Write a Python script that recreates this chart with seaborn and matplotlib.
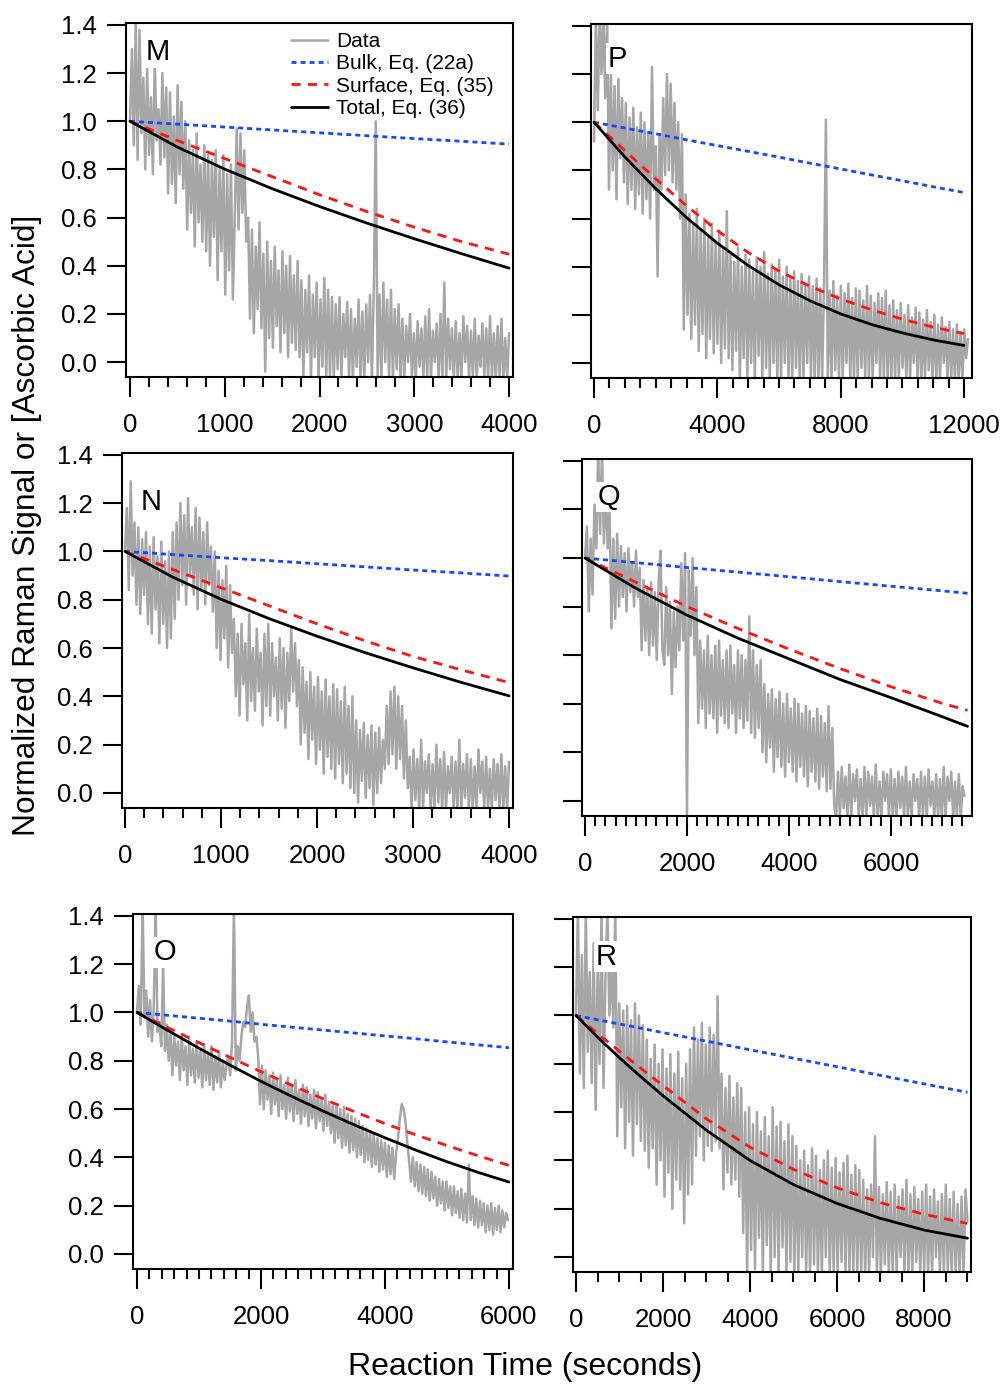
import numpy as np
import matplotlib
matplotlib.use("Agg")
import matplotlib.pyplot as plt
import seaborn as sns
from matplotlib.ticker import MultipleLocator, FormatStrFormatter
from matplotlib.lines import Line2D

sns.set_style("ticks")
plt.rcParams["font.family"] = ["Liberation Sans", "DejaVu Sans"]
plt.rcParams["text.color"] = "black"
plt.rcParams["xtick.color"] = "black"
plt.rcParams["ytick.color"] = "black"
plt.rcParams["axes.labelcolor"] = "black"

GRAY = "#a6a6a6"
BLUE = "#1448ff"
RED = "#ff1414"
BLACK = "#000000"

# ---------------- data ----------------
# Panel M
m_tmax = 4000
m_data = [1.00, 1.30, 0.90, 1.42, 0.84, 1.38, 0.95,
          1.18, 0.80, 1.22, 0.86, 1.10, 0.78, 1.25, 0.92, 1.05, 0.82, 1.20, 0.85, 1.14,
          0.70, 1.12, 0.74, 1.02, 0.66, 1.15, 0.78, 1.08, 0.72, 1.00,
          0.55, 0.92, 0.62, 0.88, 0.48, 0.95, 0.58, 0.82, 0.50, 0.90, 0.46, 0.86,
          0.40, 0.84, 0.52, 0.88, 0.34, 0.80, 0.46, 0.86, 0.28, 0.78, 0.38, 0.82, 0.26,
          0.60, 0.97, 0.55, 0.95, 0.62, 0.88, 0.50,
          0.60, 0.18, 0.55, 0.12, 0.48, 0.22, 0.58, 0.14, 0.45, -0.04,
          0.50, 0.10, 0.42, 0.06, 0.48, 0.15, 0.38, 0.04, 0.46, 0.12, 0.40, 0.02, 0.44, 0.08,
          0.36, 0.05, 0.42, 0.02,
          0.34, -0.07, 0.30, 0.04, 0.36, -0.07, 0.28, 0.02, 0.33, -0.07, 0.26, -0.02, 0.35,
          -0.07, 0.30, -0.07, 0.27,
          -0.07, 0.24, -0.03, 0.27, -0.07, 0.20, 0.02, 0.25, -0.07, 0.22, -0.07, 0.18, -0.02,
          0.26, -0.07, 0.21, -0.07, 0.24, 0.00, 0.28, -0.07, 0.30,
          1.00,
          -0.07, 0.28, -0.07, 0.33, 0.00, 0.26, -0.07, 0.30, -0.07, 0.22, -0.03, 0.24,
          -0.07, 0.18, -0.07, 0.15, 0.00, 0.20, -0.07, 0.12, -0.07, 0.17,
          -0.02, 0.14, -0.07, 0.19, -0.07, 0.22, -0.07, 0.13, 0.00, 0.16,
          -0.07, 0.20, -0.07, 0.33, -0.07, 0.18, -0.03, 0.14, -0.07, 0.17,
          -0.07, 0.12, -0.07, 0.19, 0.00, 0.15, -0.07, 0.13, -0.07, 0.18,
          -0.07, 0.11, -0.02, 0.16, -0.07, 0.14, -0.07, 0.19, -0.07, 0.12,
          -0.07, 0.15, -0.07, 0.18, -0.07, 0.10, -0.07, 0.12]
m_t = [0, 500, 1000, 1500, 2000, 2500, 3000, 3500, 4000]
m_bulk = [1.0, 0.988, 0.976, 0.964, 0.952, 0.940, 0.928, 0.917, 0.905]
m_surf = [1.0, 0.92, 0.845, 0.77, 0.695, 0.625, 0.56, 0.50, 0.448]
m_total = [1.0, 0.893, 0.801, 0.72, 0.646, 0.577, 0.512, 0.45, 0.39]

# Panel P
p_tmax = 12130
p_data = [0.92, 1.45, 1.05, 1.45, 1.20, 1.45, 1.10, 1.45,
          0.72, 1.20, 0.80, 1.15, 0.68, 1.18, 0.85, 1.10, 0.75,
          1.08, 0.66, 1.02, 0.72, 1.06, 0.64, 0.98, 0.70, 1.04, 0.62, 1.00, 0.68, 0.95, 0.60,
          1.23, 0.72, 0.90, 0.36,
          0.95, 0.72, 1.10, 0.78, 1.20, 0.80, 1.16, 0.75, 1.08, 0.72, 1.00,
          0.60, 0.95, 0.14, 0.70,
          0.20, 0.62, 0.10, 0.58, 0.16, 0.64, 0.05, 0.55, 0.12, 0.60, 0.02, 0.52, 0.10, 0.58,
          0.04, 0.50, 0.08, 0.55, 0.00, 0.48, 0.06,
          0.63,
          0.02, 0.46, -0.03, 0.42, 0.05, 0.48, -0.07, 0.40, 0.02, 0.45,
          -0.07, 0.43, 0.00, 0.38, -0.07, 0.44, 0.03, 0.40, -0.07, 0.46,
          -0.02, 0.37, -0.07, 0.41, 0.00, 0.39, -0.07, 0.43, -0.07, 0.36,
          0.00, 0.40, -0.07, 0.35, -0.07, 0.38, -0.02, 0.34, -0.07, 0.37,
          -0.07, 0.33, 0.00, 0.36, -0.07, 0.32, -0.07, 0.35, -0.07, 0.31,
          -0.07, 0.33,
          1.01,
          -0.07, 0.30, -0.07, 0.34, -0.03, 0.28, -0.07, 0.32, -0.07, 0.29, 0.00, 0.33,
          -0.07, 0.27, -0.07, 0.31, -0.07, 0.30, -0.02, 0.26, -0.07, 0.32, -0.07, 0.28,
          -0.07, 0.25, 0.00, 0.29, -0.07, 0.27, -0.07, 0.30, -0.07, 0.24, -0.07, 0.26,
          -0.07, 0.22, -0.07, 0.25, -0.02, 0.20, -0.07, 0.24, -0.07, 0.19, 0.00, 0.23,
          -0.07, 0.21, -0.07, 0.18, -0.07, 0.22, -0.03, 0.17, -0.07, 0.20, -0.07, 0.16,
          -0.07, 0.19, 0.00, 0.15, -0.07, 0.17, -0.07, 0.14, -0.07, 0.16, -0.07, 0.13,
          -0.07, 0.14, 0.02, 0.10]
p_t = [0, 1000, 2000, 3000, 4000, 5000, 6000, 7000, 8000, 9000, 10000, 11000, 12000]
p_bulk = [1.0, 0.976, 0.952, 0.927, 0.903, 0.879, 0.855, 0.830, 0.806, 0.781, 0.757, 0.732, 0.708]
p_surf = [1.0, 0.882, 0.765, 0.653, 0.55, 0.459, 0.382, 0.319, 0.266, 0.221, 0.182, 0.149, 0.122]
p_total = [1.0, 0.856, 0.724, 0.604, 0.498, 0.405, 0.325, 0.259, 0.204, 0.16, 0.125, 0.096, 0.073]

# Panel N
n_tmax = 4000
n_data = [1.00, 1.18, 0.84, 1.29, 0.90, 1.12,
          0.78, 1.10, 0.74, 1.05, 0.82, 1.08, 0.70, 1.02, 0.66, 1.06, 0.76, 0.98, 0.62, 1.04,
          0.70, 0.96, 0.60, 1.00, 0.64, 1.08, 0.72,
          1.12, 0.80, 1.20, 0.86, 1.15, 0.78, 1.22, 0.90, 1.10, 0.82, 1.18, 0.76, 1.14, 0.84,
          1.08, 0.78, 1.12, 0.86, 1.02, 0.75, 1.00,
          0.60, 0.92, 0.55, 0.88, 0.64, 0.94, 0.52, 0.86, 0.58,
          0.72, 0.40, 0.66, 0.32, 0.70, 0.45, 0.62, 0.30, 0.74, 0.38, 0.60, 0.34, 0.68, 0.42,
          0.58, 0.28, 0.66, 0.36, 0.70, 0.32, 0.62, 0.40, 0.56, 0.30, 0.64, 0.35, 0.60, 0.27,
          0.58, 0.38,
          0.68, 0.42, 0.62, 0.36, 0.55,
          0.20, 0.52, 0.25, 0.46, 0.14, 0.50, 0.22, 0.44, 0.12, 0.48, 0.18, 0.42, 0.08, 0.47,
          0.15, 0.40, 0.10, 0.45, 0.06, 0.43, 0.12, 0.38, 0.04, 0.44, 0.08, 0.36, 0.02, 0.40,
          0.00, 0.30, -0.04, 0.26, 0.05, 0.29, -0.02, 0.24, 0.02, 0.28, -0.05, 0.25, 0.00,
          0.27, 0.04, 0.22, 0.10,
          0.36, 0.12, 0.42, 0.16, 0.44, 0.10, 0.40, 0.14, 0.36, 0.06, 0.30,
          0.02, 0.15, -0.07, 0.18, -0.03, 0.14, -0.07, 0.22, -0.07, 0.13, 0.00, 0.16, -0.07,
          0.12, -0.07, 0.20, -0.04, 0.14, -0.07, 0.17, -0.07, 0.11, 0.00, 0.15, -0.07, 0.13,
          -0.07, 0.22, -0.07, 0.12, -0.02, 0.16, -0.07, 0.14, -0.07, 0.11, -0.07, 0.18, 0.00,
          0.13, -0.07, 0.15, -0.07, 0.10, -0.07, 0.14, -0.03, 0.12, -0.07, 0.16, -0.07, 0.11,
          -0.07, 0.13]
n_t = [0, 500, 1000, 1500, 2000, 2500, 3000, 3500, 4000]
n_bulk = [1.0, 0.987, 0.974, 0.962, 0.949, 0.936, 0.923, 0.911, 0.898]
n_surf = [1.0, 0.925, 0.85, 0.775, 0.70, 0.63, 0.565, 0.51, 0.457]
n_total = [1.0, 0.893, 0.802, 0.722, 0.649, 0.581, 0.518, 0.458, 0.402]

# Panel Q
q_tmax = 7440
q_data = [1.00, 1.13, 0.78, 1.08, 0.85,
          1.22, 1.04, 1.45, 1.10, 1.45, 1.06, 1.30, 1.04, 1.20,
          0.71, 1.08, 0.75, 1.10,
          0.80, 1.05, 0.84, 1.02, 0.78, 1.04, 0.86, 0.98, 0.80, 1.03, 0.84, 0.96,
          0.62, 0.91, 0.66, 0.88, 0.60, 0.90, 0.64, 0.86, 0.58, 0.90, 1.03, 0.62, 0.56, 0.88,
          0.60, 0.82,
          0.44, 0.78, 0.55, 0.80,
          0.62, 0.98, 0.66, 1.02, -0.07, 0.95, 0.68, 1.00, 0.60,
          0.88, 0.32, 0.66, 0.38, 0.62, 0.30, 0.68, 0.36, 0.60, 0.34, 0.64, 0.28, 0.66, 0.35,
          0.58, 0.32, 0.62, 0.30, 0.64, 0.36, 0.56, 0.28, 0.62, 0.34, 0.60, 0.30, 0.58, 0.33,
          0.76, 0.28, 0.62, 0.26, 0.56, 0.30, 0.58,
          0.20, 0.48, 0.16, 0.44, 0.22, 0.46, 0.12, 0.42, 0.18, 0.45, 0.14, 0.40, 0.10, 0.44,
          0.16, 0.38, 0.12, 0.42, 0.08, 0.40, 0.14, 0.36, 0.10, 0.39, 0.06, 0.37, 0.12, 0.34,
          0.08, 0.38, 0.05, 0.35, 0.10, 0.32, 0.04,
          0.39, 0.05, 0.30, -0.02,
          -0.07, 0.12, -0.07, 0.14, -0.03, 0.10, -0.07, 0.15, -0.07, 0.11,
          0.00, 0.13, -0.07, 0.09, -0.07, 0.14, -0.07, 0.12, -0.02, 0.10,
          -0.07, 0.15, -0.07, 0.08, -0.07, 0.12, 0.00, 0.11, -0.07, 0.13,
          -0.07, 0.09, -0.07, 0.12, -0.03, 0.10, -0.07, 0.14, -0.07, 0.08,
          -0.07, 0.11, 0.00, 0.09, -0.07, 0.12, -0.07, 0.10, -0.07, 0.13,
          -0.02, 0.08, -0.07, 0.11, -0.07, 0.09, -0.07, 0.14, -0.07, 0.10,
          0.00, 0.12, -0.07, 0.08, -0.07, 0.11, -0.07, 0.06, 0.02]
q_t = [0, 1000, 2000, 3000, 4000, 5000, 6000, 7000, 7500]
q_bulk = [1.0, 0.981, 0.961, 0.942, 0.923, 0.903, 0.884, 0.865, 0.855]
q_surf = [1.0, 0.90, 0.80, 0.71, 0.625, 0.545, 0.47, 0.402, 0.373]
q_total = [1.0, 0.875, 0.765, 0.67, 0.585, 0.50, 0.425, 0.347, 0.307]

# Panel O
o_tmax = 5985
o_data = [1.00, 1.11, 0.95,
          1.45, 0.98,
          1.09, 0.90, 1.05, 0.88, 1.02,
          1.45, 0.92,
          0.96, 0.86, 1.19, 0.84, 0.95,
          0.80, 0.92, 0.74, 0.90, 0.78, 0.88, 0.72, 0.91, 0.76, 0.86, 0.70, 0.89, 0.74, 0.85,
          0.71, 0.88, 0.73, 0.84, 0.69, 0.87, 0.72, 0.83, 0.70, 0.86, 0.68, 0.82, 0.71, 0.84,
          0.69, 0.80, 0.72, 0.78,
          0.82, 0.74, 0.88, 1.45, 0.76, 0.86, 0.80,
          0.90, 0.96, 0.94, 1.02, 1.07, 0.92, 1.00, 0.88, 0.90,
          0.82, 0.62, 0.78, 0.60, 0.76, 0.64, 0.74, 0.58, 0.75, 0.62, 0.72, 0.57, 0.74, 0.60,
          0.70, 0.56, 0.73, 0.59, 0.70, 0.55, 0.72, 0.58, 0.68, 0.54, 0.70, 0.57, 0.69, 0.53,
          0.66, 0.56, 0.68, 0.52, 0.67, 0.55, 0.64, 0.51, 0.66, 0.53, 0.63, 0.50, 0.62,
          0.46, 0.62, 0.48, 0.60, 0.44, 0.61, 0.45, 0.58, 0.42, 0.57, 0.43, 0.56, 0.40, 0.55,
          0.41, 0.53, 0.38, 0.52, 0.39, 0.51, 0.36, 0.50, 0.37, 0.48, 0.34, 0.47, 0.35, 0.46,
          0.32, 0.45, 0.33, 0.44, 0.31, 0.42,
          0.48, 0.56, 0.62, 0.60, 0.55, 0.46, 0.38,
          0.30, 0.40, 0.28, 0.38, 0.26, 0.37, 0.25, 0.36, 0.24, 0.35, 0.22, 0.34, 0.23, 0.32,
          0.20, 0.31, 0.21, 0.30, 0.18, 0.30, 0.19, 0.28, 0.16, 0.28, 0.17, 0.26, 0.15, 0.27,
          0.14, 0.25, 0.13, 0.37, 0.14, 0.24, 0.12, 0.23, 0.11, 0.22, 0.12, 0.21, 0.09, 0.20,
          0.10, 0.21, 0.08, 0.19, 0.10, 0.20, 0.09, 0.18, 0.11, 0.17, 0.14]
o_t = [0, 500, 1000, 1500, 2000, 2500, 3000, 3500, 4000, 4500, 5000, 5500, 6000]
o_bulk = [1.0, 0.988, 0.976, 0.964, 0.951, 0.939, 0.927, 0.915, 0.903, 0.891, 0.878, 0.866, 0.854]
o_surf = [1.0, 0.937, 0.875, 0.814, 0.755, 0.698, 0.643, 0.59, 0.54, 0.493, 0.449, 0.407, 0.367]
o_total = [1.0, 0.925, 0.852, 0.782, 0.715, 0.652, 0.592, 0.535, 0.481, 0.43, 0.382, 0.338, 0.298]

# Panel R
r_tmax = 9000
r_data = [1.00, 1.45, 0.76, 1.25, 0.70, 1.45, 0.85, 1.18, 0.72, 1.30, 0.61, 1.20, 0.80, 1.45,
          0.70, 1.15,
          1.45, 1.00, 1.20, 0.95, 1.45,
          0.50, 1.05, 0.62, 1.02, 0.45, 1.04, 0.56, 0.98, 0.42, 1.05, 0.55, 1.00, 0.48, 0.96,
          0.44,
          0.90, 0.37, 0.82, 0.45, 0.88, 0.30, 0.80, 0.40, 0.86, 0.25, 0.78, 0.35, 0.84, 0.20,
          0.76, 0.32, 0.85, 0.28, 0.74, 0.14, 0.80, 0.26, 0.86, 0.30,
          0.95, 0.42, 0.90, 0.50, 0.97, 0.40, 0.88, 0.46, 0.95, 0.44, 0.92, 0.48, 1.08, 0.45,
          0.76, 0.28, 0.70, 0.35, 0.75, 0.30, 0.66, 0.32, 0.72, 0.25,
          0.70, 0.10, 0.60, -0.07,
          0.62, 0.03, 0.55, -0.05, 0.60, 0.08, 0.52, -0.07, 0.58, 0.05, 0.50, -0.07, 0.62,
          0.00, 0.54, -0.07, 0.56, 0.04, 0.48, -0.07, 0.55, -0.02, 0.50, -0.07,
          0.46, -0.07, 0.40, 0.00, 0.44, -0.07, 0.38, -0.07, 0.45, -0.03, 0.42, -0.07, 0.36,
          -0.07, 0.40, 0.00, 0.44, -0.07, 0.37, -0.07, 0.41, -0.07, 0.35, -0.02, 0.39, -0.07,
          0.42, -0.07, 0.34, -0.07, 0.38, -0.07, 0.36, -0.07,
          0.32, -0.07, 0.28, -0.07, 0.30, 0.00, 0.50, -0.07, 0.29, -0.07,
          0.26, -0.03, 0.31, -0.07, 0.27, -0.07, 0.30, -0.07, 0.25, 0.00,
          0.28, -0.07, 0.32, -0.07, 0.26, -0.07, 0.29, -0.02, 0.24, -0.07,
          0.27, -0.07, 0.30, -0.07, 0.25, -0.07, 0.28, 0.00, 0.23, -0.07,
          0.26, -0.07, 0.30, -0.07, 0.24, -0.07, 0.27, -0.07, 0.22, -0.07,
          0.25, -0.07, 0.28, 0.15]
r_t = [0, 500, 1000, 1500, 2000, 3000, 4000, 5000, 6000, 7000, 8000, 9000]
r_bulk = [1.0, 0.982, 0.965, 0.947, 0.929, 0.894, 0.858, 0.823, 0.788, 0.752, 0.717, 0.682]
r_surf = [1.0, 0.925, 0.852, 0.78, 0.71, 0.572, 0.455, 0.363, 0.287, 0.225, 0.177, 0.139]
r_total = [1.0, 0.91, 0.825, 0.745, 0.668, 0.525, 0.40, 0.30, 0.222, 0.16, 0.112, 0.078]

y_ticks = [0.0, 0.2, 0.4, 0.6, 0.8, 1.0, 1.2, 1.4]
legend_labels = ["Data", "Bulk, Eq. (22a)", "Surface, Eq. (35)", "Total, Eq. (36)"]

panels = [
    dict(name="M", rect=(0.1254, 0.7282, 0.3851, 0.2552), xlim=(-42, 4042), major=1000, minor=200,
         tmax=m_tmax, data=m_data, t=m_t, bulk=m_bulk, surf=m_surf, total=m_total,
         ylabels=True, letter=(0.083, 0.895)),
    dict(name="P", rect=(0.5881, 0.7275, 0.3791, 0.2552), xlim=(-97, 12260), major=4000, minor=500,
         tmax=p_tmax, data=p_data, t=p_t, bulk=p_bulk, surf=p_surf, total=p_total,
         ylabels=False, letter=(0.068, 0.879)),
    dict(name="N", rect=(0.1214, 0.4175, 0.3891, 0.2560), xlim=(-31, 4042), major=1000, minor=200,
         tmax=n_tmax, data=n_data, t=n_t, bulk=n_bulk, surf=n_surf, total=n_total,
         ylabels=True, letter=(0.074, 0.839)),
    dict(name="Q", rect=(0.5791, 0.4117, 0.3881, 0.2574), xlim=(-59, 7588), major=2000, minor=200,
         tmax=q_tmax, data=q_data, t=q_t, bulk=q_bulk, surf=q_surf, total=q_total,
         ylabels=False, letter=(0.069, 0.871)),
    dict(name="O", rect=(0.1323, 0.0851, 0.3781, 0.2560), xlim=(-65, 6065), major=2000, minor=200,
         tmax=o_tmax, data=o_data, t=o_t, bulk=o_bulk, surf=o_surf, total=o_total,
         ylabels=True, letter=(0.084, 0.870)),
    dict(name="R", rect=(0.5701, 0.0829, 0.3960, 0.2560), xlim=(-69, 9080), major=2000, minor=500,
         tmax=r_tmax, data=r_data, t=r_t, bulk=r_bulk, surf=r_surf, total=r_total,
         ylabels=False, letter=(0.083, 0.865)),
]

BULK_LS = (0, (1.8, 1.45))
SURF_LS = (0, (3.3, 2.6))

fig = plt.figure(figsize=(10.05, 13.87), dpi=100)

for p in panels:
    ax = fig.add_axes(p["rect"])
    tt = np.linspace(0, p["tmax"], len(p["data"]))
    sns.lineplot(x=tt, y=p["data"], ax=ax, color=GRAY, lw=1.8, estimator=None, sort=False, zorder=1)
    sns.lineplot(x=p["t"], y=p["bulk"], ax=ax, color=BLUE, lw=2.0, linestyle=BULK_LS, estimator=None, zorder=3)
    sns.lineplot(x=p["t"], y=p["surf"], ax=ax, color=RED, lw=2.0, linestyle=SURF_LS, estimator=None, zorder=4)
    sns.lineplot(x=p["t"], y=p["total"], ax=ax, color=BLACK, lw=2.0, estimator=None, zorder=5)

    ax.set_xlim(*p["xlim"])
    ax.set_ylim(-0.062, 1.408)
    ax.set_yticks(y_ticks)
    ax.yaxis.set_major_formatter(FormatStrFormatter("%.1f"))
    ax.xaxis.set_major_locator(MultipleLocator(p["major"]))
    ax.xaxis.set_minor_locator(MultipleLocator(p["minor"]))
    ax.set_xlabel("")
    ax.set_ylabel("")
    for s in ax.spines.values():
        s.set_visible(True)
        s.set_linewidth(1.5)
        s.set_color("black")
    ax.tick_params(axis="y", which="major", direction="out", length=14, width=1.5,
                   labelsize=18.5, pad=7, labelleft=p["ylabels"], colors="black")
    ax.tick_params(axis="x", which="major", direction="out", length=14.5, width=1.5,
                   labelsize=18.5, pad=11.5, colors="black")
    ax.tick_params(axis="x", which="minor", direction="out", length=7, width=1.5, colors="black")
    ax.tick_params(axis="y", which="minor", left=False)
    ax.text(p["letter"][0], p["letter"][1], p["name"], transform=ax.transAxes,
            ha="center", va="baseline", fontsize=21, zorder=10,
            bbox=dict(facecolor="white", edgecolor="none", pad=1.0))
    if ax.get_legend() is not None:
        ax.get_legend().remove()

    if p["name"] == "M":
        handles = [Line2D([], [], color=GRAY, lw=1.8),
                   Line2D([], [], color=BLUE, lw=2.0, linestyle=BULK_LS),
                   Line2D([], [], color=RED, lw=2.0, linestyle=SURF_LS),
                   Line2D([], [], color=BLACK, lw=2.0)]
        leg = ax.legend(handles, legend_labels, loc="upper left", bbox_to_anchor=(0.425, 0.975),
                        frameon=False, fontsize=15, handlelength=1.8, handletextpad=0.4,
                        labelspacing=0.16, borderpad=0.0, borderaxespad=0.0)
        leg.set_zorder(12)

fig.text(0.027, 0.6215, "Normalized Raman Signal or [Ascorbic Acid]", rotation=90,
         ha="center", va="center", fontsize=22.8)
fig.text(0.5224, 0.0144, "Reaction Time (seconds)", ha="center", va="center", fontsize=23)

fig.savefig("out.png", dpi=100)
